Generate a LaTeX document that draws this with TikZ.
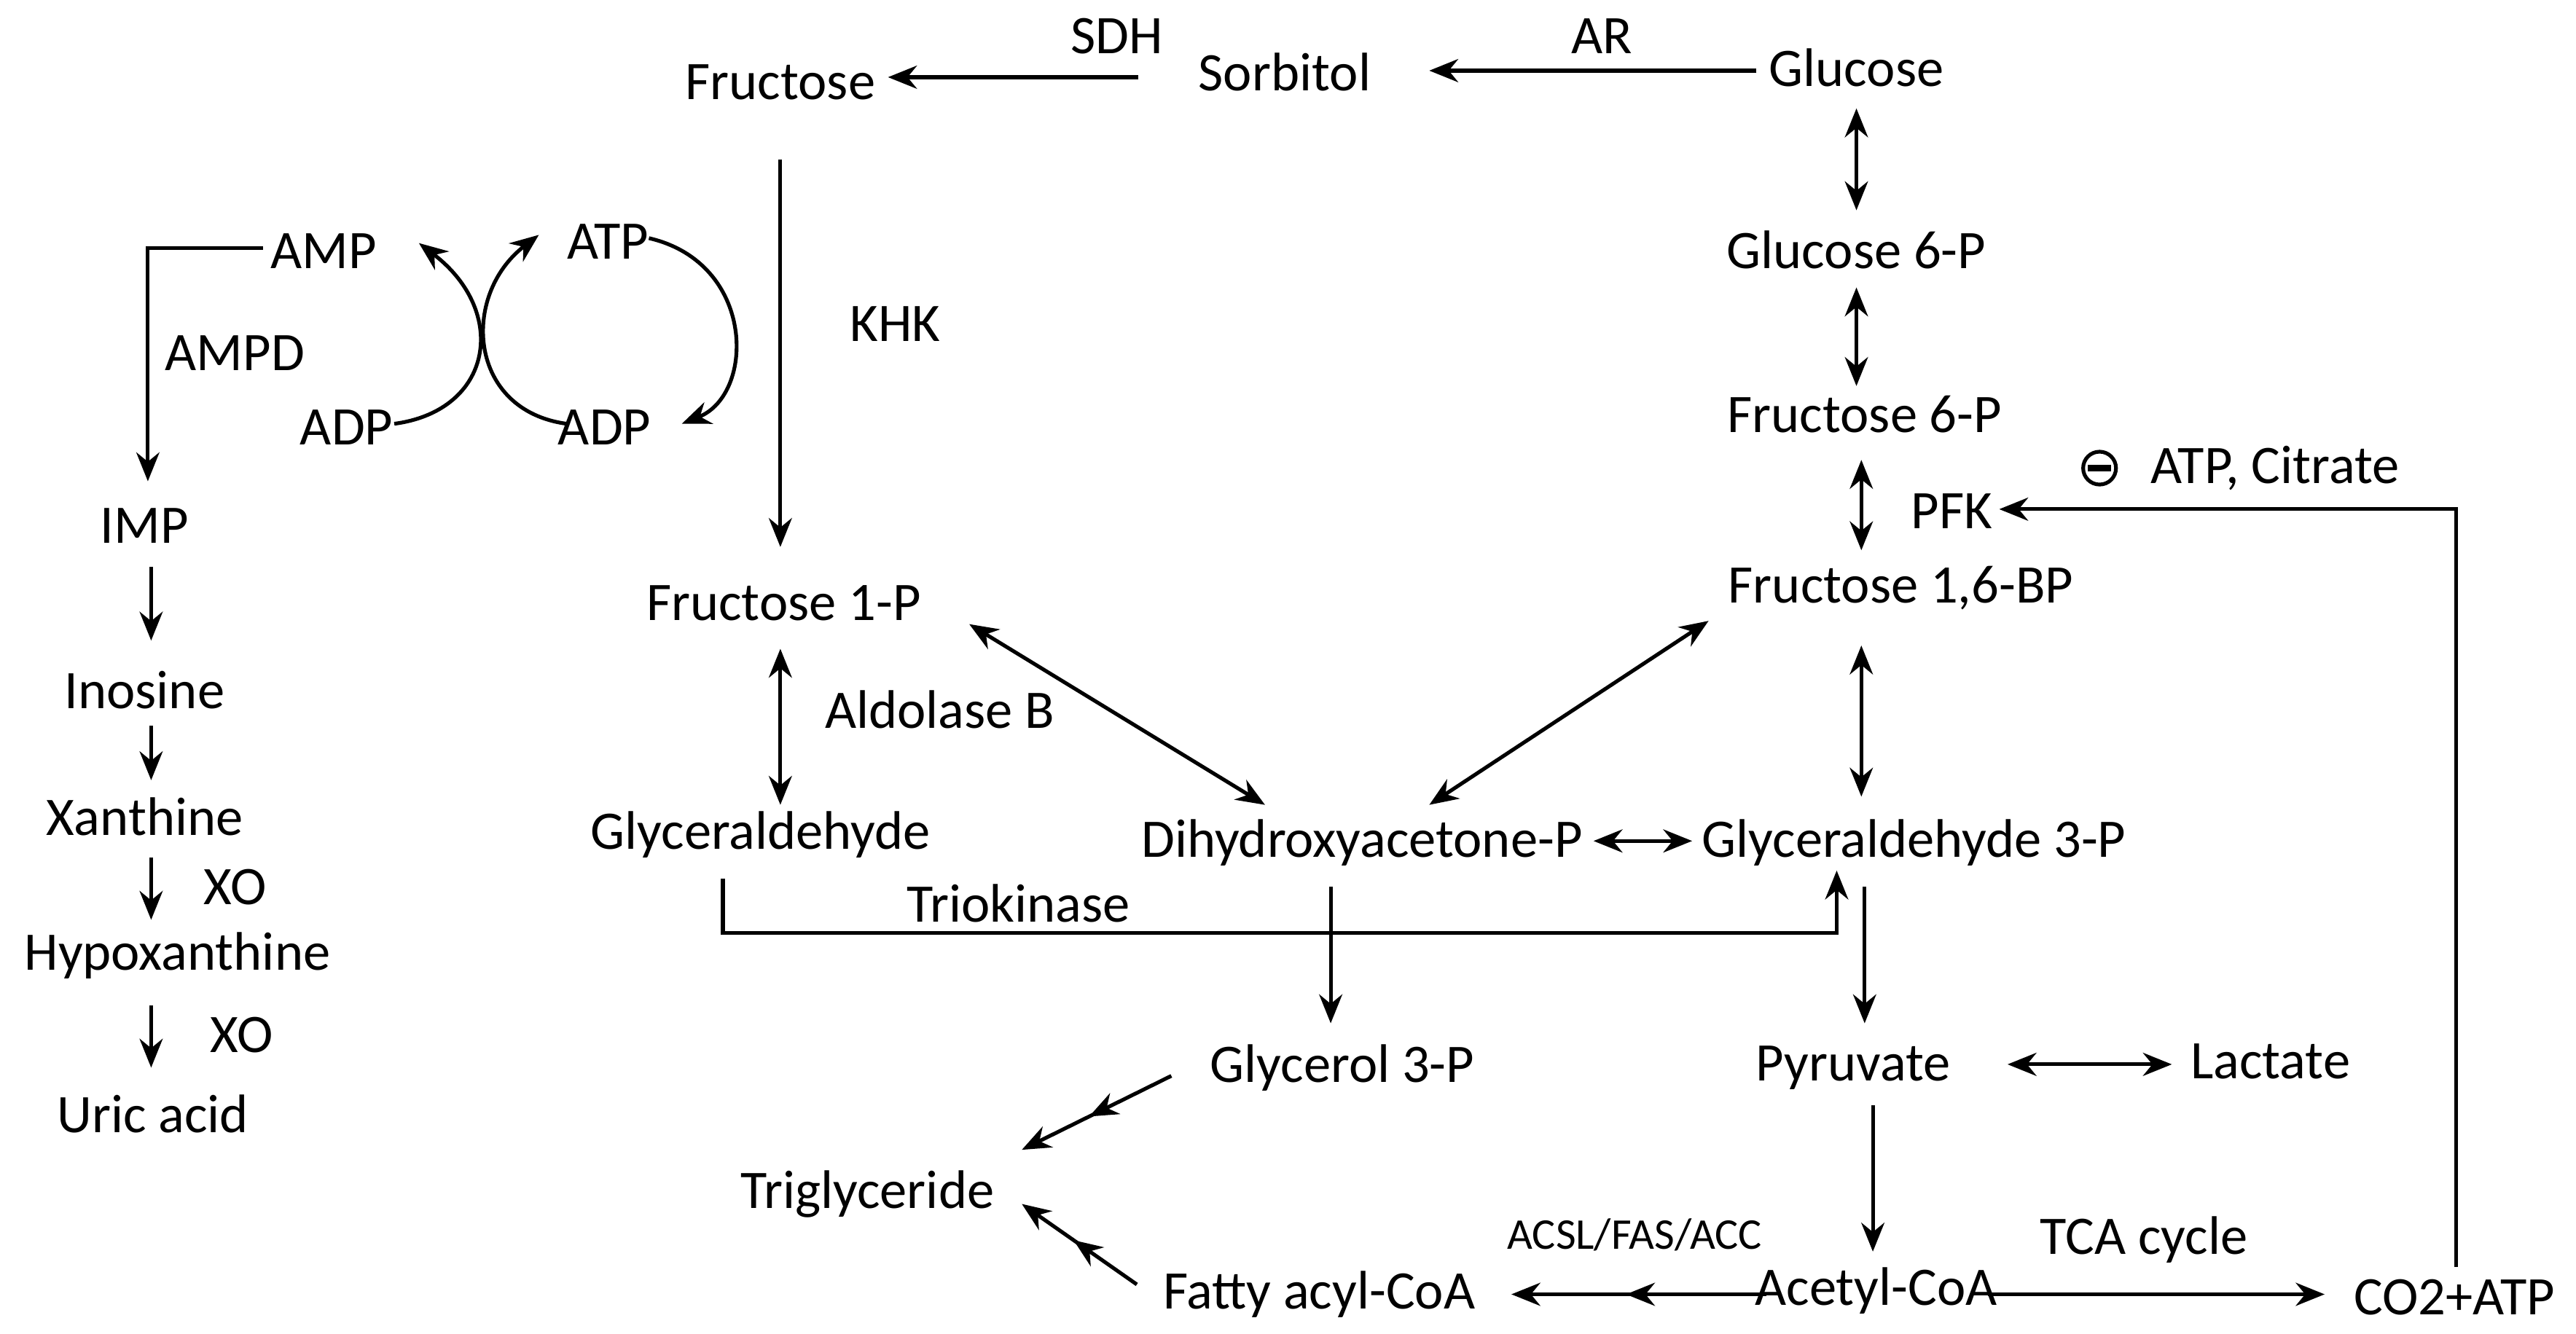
\documentclass[tikz,border=0pt]{standalone}
\usepackage{fontspec}
\setmainfont{Carlito}
\usetikzlibrary{calc, positioning, arrows.meta, decorations.markings}
\tikzstyle{every picture}=[>={Stealth[length=5pt,width=4pt]}]
\tikzstyle{met}=[inner sep=2pt, font=\fontsize{9.4}{11}\selectfont]
\tikzstyle{enz}=[inner sep=1pt, font=\fontsize{9.4}{11}\selectfont]
\tikzstyle{flow}=[->, line width=0.65pt]
\tikzstyle{both}=[<->, line width=0.65pt]
\tikzstyle{twice}=[flow, decoration={markings, mark=at position 0.55 with {\arrow{>}}}, postaction=decorate]

\begin{document}
\begin{tikzpicture}[x=0.01cm, y=-0.01cm]
		\useasboundingbox (0,0) rectangle (1568,812);
		% Top row: polyol pathway
		\node[met] (fru) at (475,50) {Fructose};
		\node[met] (sor) at (782,44) {Sorbitol};
		\node[met] (glc) at (1130,41) {Glucose};
		\node[enz] at (680,22) {SDH};
		\node[enz] at (975,22) {AR};
		\draw[flow] (693,47) -- (fru.east |- 0,47);
		\draw[flow] (glc.west |- 0,43) -- (870,43);

		% Glycolysis column
		\node[met] (g6p) at (1130,152) {Glucose 6-P};
		\node[met] (f6p) at (1135,252) {Fructose 6-P};
		\node[met] (fbp) at (1157,358) {Fructose 1,6-BP};
		\node[enz] (pfk) at (1188,311) {PFK};
		\node[met] (gap) at (1165,513) {Glyceraldehyde 3-P};
		\node[met] (pyr) at (1128,650) {Pyruvate};
		\node[met] (lac) at (1382,646) {Lactate};
		\node[met] (aco) at (1142,786) {Acetyl-CoA};
		\node[met] (co2) at (1494,790) {CO2+ATP};
		\draw[both] (1130,66) -- (1130,128);
		\draw[both] (1130,175) -- (1130,235);
		\draw[both] (1133,280) -- (1133,335);
		\draw[both] (1133,393) -- (1133,485);
		\draw[flow] (1135,540) -- (1135,623);
		\draw[both] (1222,648) -- (1322,648);
		\draw[flow] (1140,673) -- (1140,762);
		\draw[flow] (1210,788) -- (1415,788);
		\node[enz] at (1305,755) {TCA cycle};

		% Feedback inhibition of PFK
		\draw[line width=0.65pt] (1278,285) circle (10);
		\draw[line width=1.1pt] (1271,285) -- (1285,285);
		\node[enz, anchor=west] at (1305,285) {ATP, Citrate};
		\draw[flow] (co2.north -| 1495,0) |- (pfk.east |- 0,310);

		% Fructolysis
		\node[met] (f1p) at (477,367) {Fructose 1-P};
		\node[enz] at (545,197) {KHK};
		\node[met] (gla) at (463,508) {Glyceraldehyde};
		\node[enz] at (572,432) {Aldolase B};
		\node[met] (dhap) at (829,513) {Dihydroxyacetone-P};
		\node[enz] at (620,550) {Triokinase};
		\draw[flow] (475,97) -- (475,333);
		\draw[both] (475,395) -- (475,490);
		\draw[both] (590,380) -- (770,490);
		\draw[both] (1040,378) -- (870,490);
		\draw[both] (970,512) -- (1030,512);
		\draw[flow] (440,535) -- (440,568) -| (1118,530);
		\draw[flow] (810,540) -- (810,623);

		% Lipogenesis
		\node[met] (g3p) at (817,650) {Glycerol 3-P};
		\node[met] (tg) at (528,727) {Triglyceride};
		\node[met] (fac) at (803,788) {Fatty acyl-CoA};
		\node[enz, font=\fontsize{7.6}{9}\selectfont] at (995,752) {ACSL/FAS/ACC};
		\draw[twice] (713,655) -- (622,700);
		\draw[twice] (692,782) -- (622,733);
		\draw[twice] (1075,788) -- (920,788);

		% Purine degradation
		\node[met] (amp) at (197,153) {AMP};
		\node[met] (atp) at (370,147) {ATP};
		\node[met] (adp1) at (211,260) {ADP};
		\node[met] (adp2) at (368,260) {ADP};
		\node[enz] at (143,215) {AMPD};
		\node[met] (imp) at (88,320) {IMP};
		\node[met] (ino) at (88,420) {Inosine};
		\node[met] (xan) at (88,497) {Xanthine};
		\node[met] (hyp) at (108,582) {Hypoxanthine};
		\node[met] (uric) at (93,678) {Uric acid};
		\node[enz] at (143,540) {XO};
		\node[enz] at (147,630) {XO};
		\draw[flow] (160,151) -| (90,293);
		\foreach \y/\z in {345/390, 442/475, 522/560, 612/650}
		\draw[flow] (92,\y) -- (92,\z);
		\draw[flow] (240,258) .. controls (300,250) and (310,190) .. (255,148);
		\draw[flow] (345,258) .. controls (285,250) and (280,180) .. (328,143);
		\draw[flow] (395,145) .. controls (460,160) and (460,240) .. (415,258);
	\end{tikzpicture}
\end{document}
